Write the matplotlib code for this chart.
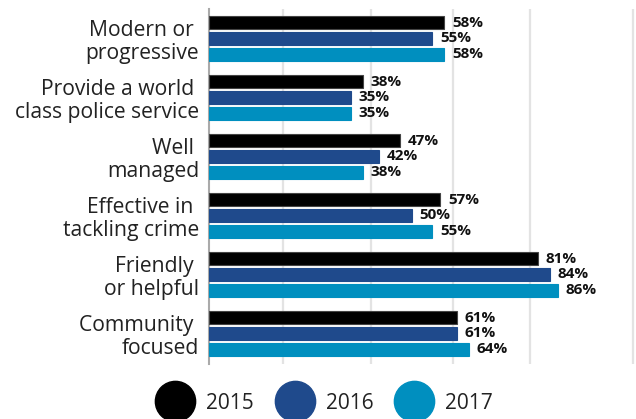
import numpy as np
import matplotlib.pyplot as plt
from matplotlib.lines import Line2D

plt.rcParams['font.family'] = ['Open Sans', 'DejaVu Sans']

categories = ["Modern or \nprogressive",
              "Provide a world \nclass police service",
              "Well \nmanaged",
              "Effective in \ntackling crime",
              "Friendly \nor helpful",
              "Community \nfocused"]
years = ["2015", "2016", "2017"]
v2015 = [58, 38, 47, 57, 81, 61]
v2016 = [55, 35, 42, 50, 84, 61]
v2017 = [58, 35, 38, 55, 86, 64]
grid_vals = [18.2, 39.9, 60.1, 79.0, 104.4]

colors = ["#000000", "#1f4a8c", "#008fbf"]
edges = ["#444444", "#1f4a8c", "#008fbf"]

fig = plt.figure(figsize=(6.36, 4.19), dpi=100)
ax = fig.add_axes([209/636, 1 - 364/419, 1 - 209/636, 355/419])

y = np.arange(len(categories))
step = 0.271
h = 0.232
for k, vals in enumerate([v2015, v2016, v2017]):
    pos = y + (k - 1) * step
    ax.barh(pos, vals, height=h, color=colors[k], edgecolor=edges[k],
            linewidth=0.8, zorder=3)
    for p, v in zip(pos, vals):
        ax.annotate(f"{v}%", (v, p), xytext=(5.5, 0), textcoords="offset points",
                    va="center", ha="left", fontsize=11, fontweight="bold",
                    fontstretch="normal", color="#111111")

for g in grid_vals:
    ax.axvline(g, color="#e3e3e3", linewidth=1.6, zorder=1)

ax.set_xlim(0, 105.2)
ax.set_ylim(5.517, -0.5)
ax.set_yticks(y)
ax.set_yticklabels(categories, fontsize=15.2, color="#222222",
                   multialignment="right", linespacing=1.15)
ax.tick_params(axis="y", length=0, pad=7)
ax.set_xticks([])
for s in ["top", "right", "bottom"]:
    ax.spines[s].set_visible(False)
ax.spines["left"].set_color("#aaaaaa")
ax.spines["left"].set_linewidth(1.5)

handles = [Line2D([], [], marker="o", linestyle="", markersize=29,
                  markerfacecolor=c, markeredgecolor=c) for c in colors]
fig.legend(handles, years, loc="center",
           bbox_to_anchor=(0.5 + 6/636, 1 - 403/419),
           ncol=3, frameon=False, fontsize=15, handlelength=1.92,
           handletextpad=0.53, columnspacing=1.0, labelcolor="#222222")

fig.savefig("out.png", dpi=100)
